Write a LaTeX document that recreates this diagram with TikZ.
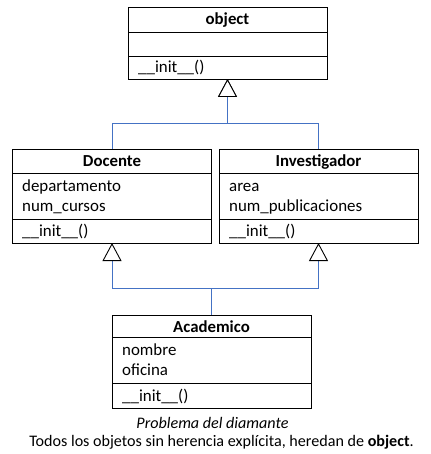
\documentclass[tikz,border=0pt]{standalone}
\usepackage{fontspec}
\setmainfont{Carlito}
\usetikzlibrary{arrows.meta}
\definecolor{linkblue}{RGB}{68,114,196}
\begin{document}
\begin{tikzpicture}[x=1pt,y=-1pt,
  classbox/.style={draw=black,line width=0.9pt,outer sep=0pt,inner sep=0pt,minimum width=199pt,anchor=north west},
  title/.style={font=\fontsize{16.8}{20}\selectfont\bfseries,anchor=base,inner sep=0pt},
  member/.style={font=\fontsize{16.9}{20}\selectfont,anchor=base west,inner sep=0pt},
  captext/.style={font=\fontsize{16.1}{20}\selectfont,anchor=base,inner sep=0pt},
  inherit/.style={draw=linkblue,line width=0.9pt,-{Triangle[open,length=18pt,width=19pt,line width=0.9pt,color=black,fill=white]}}
]
\useasboundingbox (0,0) rectangle (430,454);
% object
\node[classbox,minimum height=72pt] (obj) at (128,7) {};
\draw[line width=0.9pt] (128,32) -- (327,32) (128,56) -- (327,56);
\node[title] (objt) at (227.5,24.5) {object};
\node[member] (objm) at (138,73) {\_\_init\_\_()};
% Docente
\node[classbox,minimum height=94pt] (doc) at (12.5,149) {};
\draw[line width=0.9pt] (12.5,173) -- (211.5,173) (12.5,219) -- (211.5,219);
\node[title] (doct) at (112,166.5) {Docente};
\node[member] (doca1) at (22,191) {departamento};
\node[member] (doca2) at (22,211) {num\_cursos};
\node[member] (docm) at (22,236.5) {\_\_init\_\_()};
% Investigador
\node[classbox,minimum height=94pt] (inv) at (219,149) {};
\draw[line width=0.9pt] (219,173) -- (418,173) (219,219) -- (418,219);
\node[title] (invt) at (318.5,166.5) {Investigador};
\node[member] (inva1) at (229,191) {area};
\node[member] (inva2) at (229,211) {num\_publicaciones};
\node[member] (invm) at (229,236.5) {\_\_init\_\_()};
% Academico
\node[classbox,minimum height=93pt] (aca) at (112,315) {};
\draw[line width=0.9pt] (112,337) -- (311,337) (112,383) -- (311,383);
\node[title] (acat) at (211.5,332) {Academico};
\node[member] (acaa1) at (122,355) {nombre};
\node[member] (acaa2) at (122,375.5) {oficina};
\node[member] (acam) at (122,401.5) {\_\_init\_\_()};
% connectors
\coordinate (j1) at (227.5,123);
\coordinate (j2) at (211.5,288);
\draw[inherit] (doc.north) |- (j1) -- (obj.south);
\draw[inherit] (inv.north) |- (j1) -- (obj.south);
\draw[inherit] (aca.north) -- (j2) -| (doc.south);
\draw[inherit] (aca.north) -- (j2) -| (inv.south);
% caption
\node[captext,font=\fontsize{16.1}{20}\selectfont\itshape] (c1) at (212.5,428) {Problema del diamante};
\node[captext] (c2) at (221.5,446) {Todos los objetos sin herencia explícita, heredan de \textbf{object}.};
\end{tikzpicture}
\end{document}
